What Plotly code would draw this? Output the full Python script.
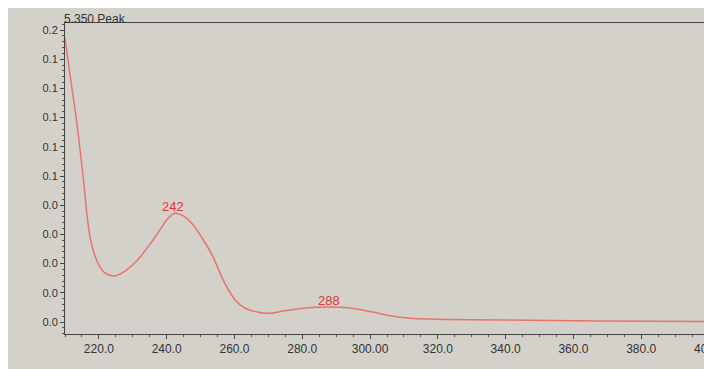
import plotly.graph_objects as go

# Spectrum (wavelength nm, absorbance)
wavelength = [210.0, 211.5, 213.0, 214.4, 215.6, 216.5, 217.4, 218.6, 220.0, 221.8,
              224.2, 227.1, 231.2, 235.0, 238.0, 240.2, 242.5, 245.0, 248.0, 251.0,
              253.7, 256.6, 259.6, 262.5, 266.7, 270.5, 274.3, 280.8, 287.3, 294.1,
              300.9, 305.5, 312.0, 322.0, 338.4, 367.9, 400.0]
absorbance = [0.1945, 0.169, 0.145, 0.119, 0.094, 0.073, 0.058, 0.047, 0.039, 0.0336,
              0.0315, 0.034, 0.042, 0.053, 0.063, 0.0705, 0.0745, 0.0725, 0.066, 0.0555,
              0.0445, 0.029, 0.017, 0.0103, 0.0068, 0.006, 0.0075, 0.0096, 0.0103, 0.0096,
              0.0068, 0.0045, 0.0026, 0.0018, 0.0014, 0.0007, 0.0003]

peak_x = [242, 288]
peak_y = [0.0745, 0.0103]
peak_labels = ["242", "288"]

x_tickvals = [220, 240, 260, 280, 300, 320, 340, 360, 380, 400]
x_ticktext = ["220.0", "240.0", "260.0", "280.0", "300.00", "320.0", "340.0", "360.0", "380.0", "400.0"]
y_tickvals = [0.20, 0.18, 0.16, 0.14, 0.12, 0.10, 0.08, 0.06, 0.04, 0.02, 0.00]
y_ticktext = ["0.2", "0.1", "0.1", "0.1", "0.1", "0.1", "0.0", "0.0", "0.0", "0.0", "0.0"]

title_text = "5.350 Peak"

BG = "#d4d1ca"
fig = go.Figure()
fig.add_trace(go.Scatter(x=wavelength, y=absorbance, mode="lines",
                         line=dict(color="#e8736c", width=1.5, shape="spline", smoothing=0.7),
                         hoverinfo="skip", showlegend=False))

for px, py, t in zip(peak_x, peak_y, peak_labels):
    fig.add_annotation(x=px, y=py, text=t, showarrow=False, yanchor="bottom", yshift=-3,
                       font=dict(family="Arial, Liberation Sans", size=13, color="#e03535"))

fig.add_annotation(xref="paper", yref="paper", x=0, y=1, xanchor="left", yanchor="bottom",
                   xshift=-3, yshift=-5, text=title_text, showarrow=False,
                   font=dict(family="Arial, Liberation Sans", size=12, color="#333333"))

fig.update_layout(
    width=712, height=369,
    margin=dict(l=57, r=11, t=15, b=43, autoexpand=False),
    paper_bgcolor=BG, plot_bgcolor=BG,
    font=dict(family="Arial, Liberation Sans", size=11, color="#333333"),
)
fig.update_xaxes(range=[210, 400], tickvals=x_tickvals, ticktext=x_ticktext, automargin=False,
                 ticklabeloverflow="allow",
                 showgrid=False, zeroline=False, showline=True, linecolor="#444444", linewidth=1,
                 mirror=True, ticks="outside", ticklen=4, tickcolor="#444444",
                 minor=dict(dtick=5, ticks="outside", ticklen=2, tickcolor="#555555"),
                 tickfont=dict(size=12, color="#333333"))
fig.update_yaxes(range=[-0.0082, 0.2048], tickvals=y_tickvals, ticktext=y_ticktext, automargin=False,
                 showgrid=False, zeroline=False, showline=True, linecolor="#444444", linewidth=1,
                 mirror=True, ticks="outside", ticklen=4, tickcolor="#444444",
                 minor=dict(dtick=0.004, tick0=0, ticks="outside", ticklen=2, tickcolor="#555555"),
                 tickfont=dict(size=11, color="#333333"))

fig.write_html("out.html")
